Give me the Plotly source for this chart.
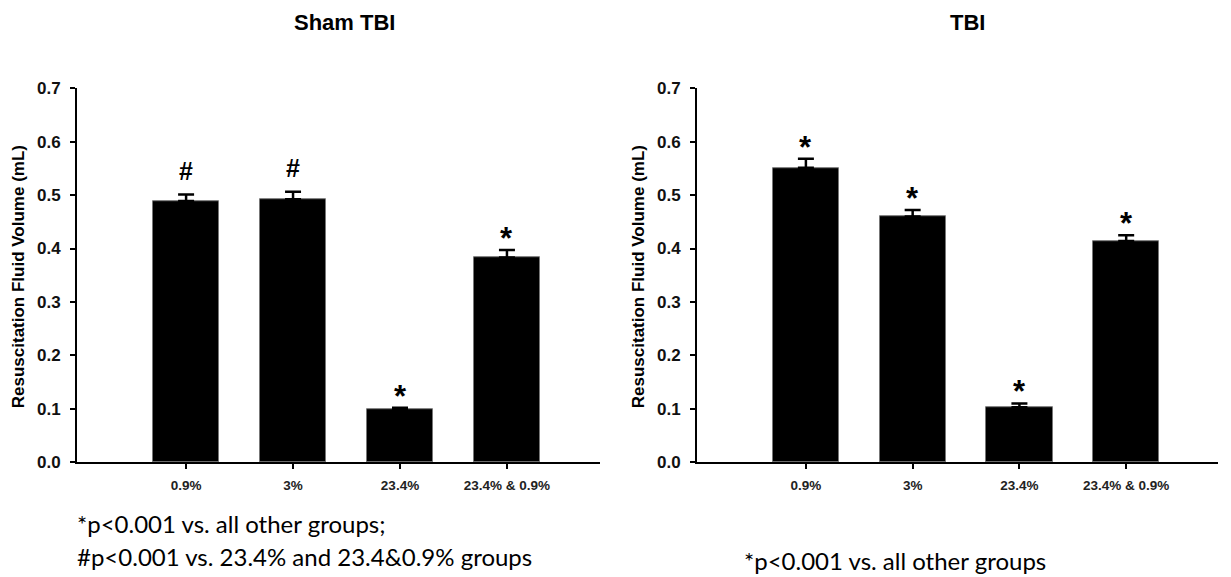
import plotly.graph_objects as go

W, H = 1231, 596

categories = ["0.9%", "3%", "23.4%", "23.4% & 0.9%"]
sham_values = [0.489, 0.492, 0.100, 0.383]
sham_errors = [0.012, 0.014, 0.002, 0.014]
sham_marks = ["#", "#", "*", "*"]
tbi_values = [0.551, 0.460, 0.103, 0.414]
tbi_errors = [0.017, 0.012, 0.007, 0.011]
tbi_marks = ["*", "*", "*", "*"]
yticks = [0.0, 0.1, 0.2, 0.3, 0.4, 0.5, 0.6, 0.7]
ytick_text = ["0.0", "0.1", "0.2", "0.3", "0.4", "0.5", "0.6", "0.7"]

def px(x):
    return x / W

def py(y):
    # target picture row -> page row (compensating the observed vertical mapping)
    d = (y - 8.8) / 0.968
    return (H - d) / H

fig = go.Figure()

x_idx = list(range(len(categories)))

for k, (vals, errs) in enumerate([(sham_values, sham_errors), (tbi_values, tbi_errors)]):
    xa = "x" if k == 0 else "x2"
    ya = "y" if k == 0 else "y2"
    fig.add_trace(go.Bar(
        x=x_idx, y=vals, xaxis=xa, yaxis=ya, width=0.62,
        marker=dict(color="black", line=dict(color="#777777", width=1)),
        error_y=dict(type="data", array=errs, arrayminus=[0]*len(errs), symmetric=False,
                     color="black", thickness=2.5, width=8),
        showlegend=False, hoverinfo="skip",
    ))

yaxis_common = dict(
    range=[0, 0.7], tickmode="array", tickvals=yticks, ticktext=ytick_text,
    showline=True, linecolor="black", linewidth=2, ticks="outside", ticklen=5,
    tickwidth=2, tickcolor="black", showgrid=False, zeroline=False,
    ticklabelstandoff=6,
    tickfont=dict(family="Liberation Sans, Arial", size=17, color="#111111", weight="bold"),
    domain=[py(462), py(88)],
)
xaxis_common = dict(
    tickmode="array", tickvals=x_idx, ticktext=categories,
    showline=True, linecolor="black", linewidth=2, ticks="outside", ticklen=5,
    tickwidth=2, tickcolor="black", showgrid=False, zeroline=False,
    ticklabelstandoff=5,
    tickfont=dict(family="Liberation Sans, Arial", size=13.5, color="#222222", weight="bold"),
)

fig.update_layout(
    width=W, height=H, margin=dict(l=0, r=0, t=0, b=0),
    paper_bgcolor="white", plot_bgcolor="white",
    xaxis=dict(xaxis_common, domain=[px(77), px(600)], range=[-1.02, 3.87], anchor="y"),
    yaxis=dict(yaxis_common, anchor="x"),
    xaxis2=dict(xaxis_common, domain=[px(697), px(1218)], range=[-1.02, 3.86], anchor="y2"),
    yaxis2=dict(yaxis_common, anchor="x2"),
    bargap=0,
)

annotations = []
# significance marks
for k, (vals, errs, marks) in enumerate([(sham_values, sham_errors, sham_marks),
                                         (tbi_values, tbi_errors, tbi_marks)]):
    xr = "x" if k == 0 else "x2"
    yr = "y" if k == 0 else "y2"
    for i, (v, e, m) in enumerate(zip(vals, errs, marks)):
        if m == "#":
            annotations.append(dict(x=i, y=v + e, xref=xr, yref=yr, text="#", showarrow=False,
                                    yanchor="bottom", yshift=8,
                                    font=dict(family="Liberation Sans, Arial", size=25, color="black", weight="bold")))
        else:
            annotations.append(dict(x=i, y=v + e, xref=xr, yref=yr, text="*", showarrow=False,
                                    yanchor="bottom", yshift=-8,
                                    font=dict(family="Liberation Sans, Arial", size=31, color="black", weight="bold")))

# titles
annotations.append(dict(x=px(345), y=py(22), xref="paper", yref="paper", text="Sham TBI",
                        showarrow=False, xanchor="center", yanchor="middle",
                        font=dict(family="Liberation Sans, Arial", size=22, color="black", weight="bold")))
annotations.append(dict(x=px(967), y=py(22), xref="paper", yref="paper", text="TBI",
                        showarrow=False, xanchor="center", yanchor="middle",
                        font=dict(family="Liberation Sans, Arial", size=22, color="black", weight="bold")))
# y-axis titles
for xc in (18, 638):
    annotations.append(dict(x=px(xc), y=py(277), xref="paper", yref="paper",
                            text="Resuscitation Fluid Volume (mL)", textangle=-90,
                            showarrow=False, xanchor="center", yanchor="middle",
                            font=dict(family="Liberation Sans, Arial", size=17, color="black", weight="bold")))
# footnotes
foot_font = dict(family="Lato, Liberation Sans, Arial", size=24, color="black")
annotations.append(dict(x=px(75), y=py(523), xref="paper", yref="paper",
                        text="*p<0.001 vs. all other groups;", showarrow=False,
                        xanchor="left", yanchor="middle", font=foot_font))
annotations.append(dict(x=px(75), y=py(556), xref="paper", yref="paper",
                        text="#p<0.001 vs. 23.4% and 23.4&0.9% groups", showarrow=False,
                        xanchor="left", yanchor="middle", font=foot_font))
annotations.append(dict(x=px(742), y=py(560), xref="paper", yref="paper",
                        text="*p<0.001 vs. all other groups", showarrow=False,
                        xanchor="left", yanchor="middle", font=foot_font))

fig.update_layout(annotations=annotations)
fig.write_html("out.html", config={"displayModeBar": False},
               post_script="document.body.style.margin='0';document.body.style.overflow='hidden';")
